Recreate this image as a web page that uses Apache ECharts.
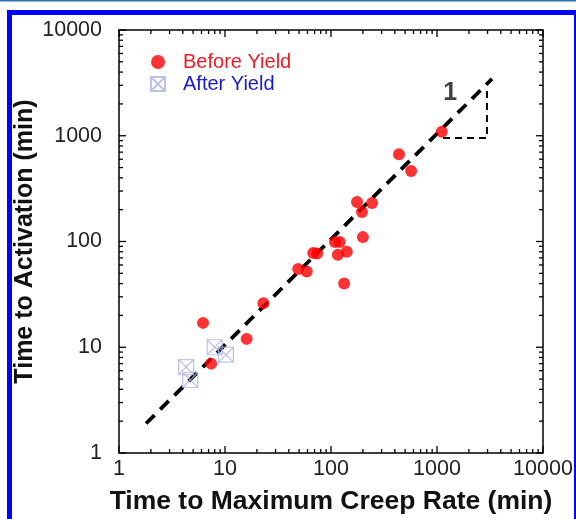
<!DOCTYPE html>
<html>
<head>
<meta charset="utf-8">
<script src="https://cdn.jsdelivr.net/npm/echarts@6/dist/echarts.min.js"></script>
<style>
  html, body { margin: 0; padding: 0; background: #fff; }
  #chart { width: 576px; height: 519px; }
</style>
</head>
<body>
<div id="chart"></div>
<script>
// Creep measurements: time to maximum creep rate (x) vs time to activation (y), minutes
const beforeYieldX = [6.2, 7.4, 16, 23, 49, 59, 68, 74, 109, 121, 116, 141, 133, 200, 176, 196, 244, 438, 570, 1110];
const beforeYieldY = [17, 7, 12, 26, 55, 52, 78, 77, 99, 99, 75, 80, 40, 110, 236, 190, 231, 670, 465, 1090];
const afterYieldX = [8.0, 10.2, 4.3, 4.7];
const afterYieldY = [10.0, 8.5, 6.5, 4.9];

// Unit-slope guide line and its slope triangle
const guideX = [1.8, 3300];
const guideY = [1.9, 3450];
const triangleX = [1140, 2960, 2960];
const triangleY = [950, 950, 2750];
const slopeText = '1';
const slopeTextAt = [1330, 2550];

// Axis decades and minor multipliers
const decades = [1, 10, 100, 1000, 10000];
const minorSteps = [2, 3, 4, 5, 6, 7, 8, 9];

const minorTicks = [];
decades.slice(0, -1).forEach(d => minorSteps.forEach(m => minorTicks.push(d * m)));

const tickColor = '#000';

function tickItem(len) {
  return function (axis) {
    return function (params, api) {
      const v = api.value(axis === 'x' ? 0 : 1);
      const cs = params.coordSys;
      const p = api.coord(axis === 'x' ? [v, 1] : [1, v]);
      const style = { stroke: tickColor, lineWidth: 1.3 };
      if (axis === 'x') {
        const b = cs.y + cs.height, t = cs.y;
        return { type: 'group', children: [
          { type: 'line', shape: { x1: p[0], y1: b, x2: p[0], y2: b - len }, style },
          { type: 'line', shape: { x1: p[0], y1: t, x2: p[0], y2: t + len }, style }
        ]};
      }
      const l = cs.x, r = cs.x + cs.width;
      return { type: 'group', children: [
        { type: 'line', shape: { x1: l, y1: p[1], x2: l + len, y2: p[1] }, style },
        { type: 'line', shape: { x1: r, y1: p[1], x2: r - len, y2: p[1] }, style }
      ]};
    };
  };
}

const majorTick = tickItem(7);
const minorTick = tickItem(4);

const crossSquare = 'path://M0,0L10,0L10,10L0,10Z M0,0L10,10 M10,0L0,10';

const chart = echarts.init(document.getElementById('chart'));

chart.setOption({
  animation: false,
  backgroundColor: '#fff',
  textStyle: { fontFamily: 'Liberation Sans, Arial, sans-serif' },
  graphic: [
    { type: 'rect', shape: { x: 0, y: 0, width: 576, height: 1.5 }, style: { fill: '#2f6cb3' }, z: 100 },
    { type: 'rect', shape: { x: 9.5, y: 12.5, width: 567, height: 530 },
      style: { fill: 'none', stroke: '#0000ff', lineWidth: 5 }, z: 100, silent: true }
  ],
  grid: {
    left: 119, top: 30, width: 424, height: 423,
    containLabel: false, outerBoundsMode: 'none',
    show: true, borderColor: '#000', borderWidth: 1.5, backgroundColor: 'transparent'
  },
  legend: {
    orient: 'vertical',
    left: 145, top: 47,
    itemWidth: 14, itemHeight: 14, itemGap: 2,
    textStyle: { fontSize: 20, padding: [0, 0, 0, 13] },
    data: [
      { name: 'Before Yield', icon: 'circle', textStyle: { color: '#ec1c24' } },
      { name: 'After Yield', icon: crossSquare, textStyle: { color: '#1a1acb' } }
    ]
  },
  xAxis: {
    type: 'log', logBase: 10, min: 1, max: 10000,
    axisLine: { show: false },
    axisTick: { show: false },
    splitLine: { show: false },
    axisLabel: { fontSize: 21.5, color: '#222', margin: 5, formatter: v => String(Math.round(v)) },
    name: 'Time to Maximum Creep Rate (min)',
    nameLocation: 'middle', nameGap: 35, nameMoveOverlap: false,
    nameTextStyle: { fontSize: 26.5, fontWeight: 'bold', color: '#111' }
  },
  yAxis: {
    type: 'log', logBase: 10, min: 1, max: 10000,
    axisLine: { show: false },
    axisTick: { show: false },
    splitLine: { show: false },
    axisLabel: { fontSize: 21.5, color: '#222', margin: 17, formatter: v => String(Math.round(v)) },
    name: 'Time to Activation (min)',
    nameLocation: 'middle', nameGap: 81, nameRotate: 90, nameMoveOverlap: false,
    nameTextStyle: { fontSize: 25, fontWeight: 'bold', color: '#111' }
  },
  series: [
    { type: 'custom', silent: true, clip: false, renderItem: majorTick('x'), data: decades.map(v => [v, 1]) },
    { type: 'custom', silent: true, clip: false, renderItem: minorTick('x'), data: minorTicks.map(v => [v, 1]) },
    { type: 'custom', silent: true, clip: false, renderItem: majorTick('y'), data: decades.map(v => [1, v]) },
    { type: 'custom', silent: true, clip: false, renderItem: minorTick('y'), data: minorTicks.map(v => [1, v]) },
    {
      type: 'line', silent: true, symbol: 'none', z: 3,
      data: guideX.map((x, i) => [x, guideY[i]]),
      lineStyle: { color: '#000', width: 3.8, type: [12, 8] }
    },
    {
      type: 'line', silent: true, symbol: 'none', z: 3,
      data: triangleX.map((x, i) => [x, triangleY[i]]),
      lineStyle: { color: '#000', width: 2, type: [7, 5] }
    },
    {
      type: 'scatter', silent: true, symbolSize: 0, z: 4,
      data: [slopeTextAt],
      label: { show: true, formatter: slopeText, fontSize: 25, fontWeight: 'bold', color: '#111', position: 'inside' }
    },
    {
      name: 'After Yield', type: 'scatter', symbol: crossSquare, symbolSize: 15, z: 5,
      data: afterYieldX.map((x, i) => [x, afterYieldY[i]]),
      itemStyle: { color: 'rgba(255,255,255,0)', borderColor: '#aeb2e6', borderWidth: 1.2 }
    },
    {
      name: 'Before Yield', type: 'scatter', symbol: 'circle', symbolSize: 12, z: 6,
      data: beforeYieldX.map((x, i) => [x, beforeYieldY[i]]),
      itemStyle: { color: '#ff0000' }
    }
  ]
});
</script>
</body>
</html>
